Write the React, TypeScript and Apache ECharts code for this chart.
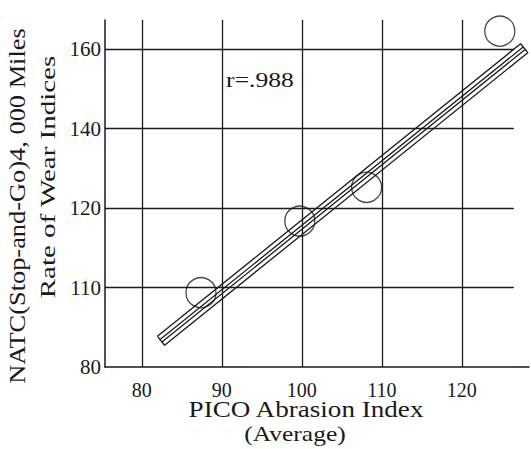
import React, { useEffect, useRef } from "react";
import * as echarts from "echarts";

// Data points (PICO abrasion index vs NATC rate of wear index)
const pointsX = [87.4, 99.75, 108.1, 124.75];
const pointsY = [98.7, 116.7, 125.2, 164.5];

// Regression band (outline rectangle + two inner lines), endpoints
const bandOutlineX = [81.95, 127.35, 128.25, 82.85, 81.95];
const bandOutlineY = [87.72, 161.32, 159.08, 85.48, 87.72];
const bandInnerUpperX = [82.28, 127.68];
const bandInnerUpperY = [86.91, 160.51];
const bandInnerLowerX = [82.52, 127.92];
const bandInnerLowerY = [86.29, 159.89];

// Axes
const xTickValues = [80, 90, 100, 110, 120];
const xTickLabels = ["80", "90", "100", "110", "120"];
const yTickValues = [80, 100, 120, 140, 160];
const yTickLabels = ["80", "110", "120", "140", "160"];
const yGridValues = [100, 120, 140, 160];

const X_MIN = 75.4;
const X_MAX = 128.4;
const Y_MIN = 80;
const Y_MAX = 167.3;
const H_GRID_END = 126.5;

const FONT = "'Liberation Serif', 'DejaVu Serif', serif";
const INK = "#1a1a1a";

const zip = (xs: number[], ys: number[]) => xs.map((x, i) => [x, ys[i]]);

const txt = (
  text: string,
  x: number,
  y: number,
  size: number,
  scaleX: number,
  rotation = 0
) => ({
  type: "text",
  x,
  y,
  rotation,
  scaleX,
  silent: true,
  style: {
    text,
    font: `${size}px ${FONT}`,
    fill: INK,
    textAlign: "center",
    textVerticalAlign: "middle",
    align: "center",
    verticalAlign: "middle",
  },
});

export default function App() {
  const ref = useRef<HTMLDivElement>(null);
  useEffect(() => {
    if (!ref.current) return;
    const chart = echarts.init(ref.current, undefined, { renderer: "svg" });
    const lineStyle = { color: INK, width: 1.3 };
    chart.setOption({
      animation: false,
      backgroundColor: "#ffffff",
      grid: { left: 105, top: 20, right: 2, bottom: 82, containLabel: false },
      xAxis: {
        type: "value",
        min: X_MIN,
        max: X_MAX,
        axisLine: { show: true, lineStyle: { color: INK, width: 1.5 } },
        axisTick: { show: false },
        splitLine: { show: false },
        axisLabel: {
          customValues: xTickValues,
          formatter: (v: number) => {
            const i = xTickValues.indexOf(Math.round(v));
            return i >= 0 ? xTickLabels[i] : "";
          },
          color: INK,
          fontFamily: FONT,
          fontSize: 20,
          margin: 13,
        },
      },
      yAxis: {
        type: "value",
        min: Y_MIN,
        max: Y_MAX,
        interval: 20,
        axisLine: { show: true, lineStyle: { color: INK, width: 1.5 } },
        axisTick: { show: false },
        splitLine: { show: false },
        axisLabel: {
          formatter: (v: number) => {
            const i = yTickValues.indexOf(Math.round(v));
            return i >= 0 && Math.abs(v - yTickValues[i]) < 0.01 ? yTickLabels[i] : "";
          },
          color: INK,
          fontFamily: FONT,
          fontSize: 21,
          margin: 4,
          showMaxLabel: false,
        },
      },
      graphic: [
        txt("NATC(Stop-and-Go)4, 000 Miles", 17, 206, 24, 1.1, Math.PI / 2),
        txt("Rate of Wear Indices", 48, 177, 21, 1.38, Math.PI / 2),
        txt("PICO Abrasion Index", 306, 409, 24, 1.13),
        txt("(Average)", 295, 434, 22, 1.16),
        txt("r=.988", 260, 80, 20, 1.28),
      ],
      series: [
        {
          type: "line",
          name: "grid",
          data: [],
          silent: true,
          markLine: {
            silent: true,
            symbol: "none",
            label: { show: false },
            lineStyle: { color: INK, width: 1.3, type: "solid" },
            data: [
              ...xTickValues.map((v) => [
                { coord: [v, Y_MIN] },
                { coord: [v, Y_MAX] },
              ]),
              ...yGridValues.map((v) => [
                { coord: [X_MIN, v] },
                { coord: [H_GRID_END, v] },
              ]),
            ],
          },
        },
        {
          type: "line",
          name: "band",
          data: zip(bandOutlineX, bandOutlineY),
          symbol: "none",
          lineStyle,
          silent: true,
        },
        {
          type: "line",
          name: "inner1",
          data: zip(bandInnerUpperX, bandInnerUpperY),
          symbol: "none",
          lineStyle,
          silent: true,
        },
        {
          type: "line",
          name: "inner2",
          data: zip(bandInnerLowerX, bandInnerLowerY),
          symbol: "none",
          lineStyle,
          silent: true,
        },
        {
          type: "scatter",
          name: "points",
          data: zip(pointsX, pointsY),
          symbol: "circle",
          symbolSize: 30,
          itemStyle: { color: "rgba(0,0,0,0)", borderColor: INK, borderWidth: 1.3 },
          silent: true,
        },
      ],
    });
    return () => chart.dispose();
  }, []);
  return <div ref={ref} style={{ width: 531, height: 449, position: "fixed", left: 0, top: 0 }} />;
}
